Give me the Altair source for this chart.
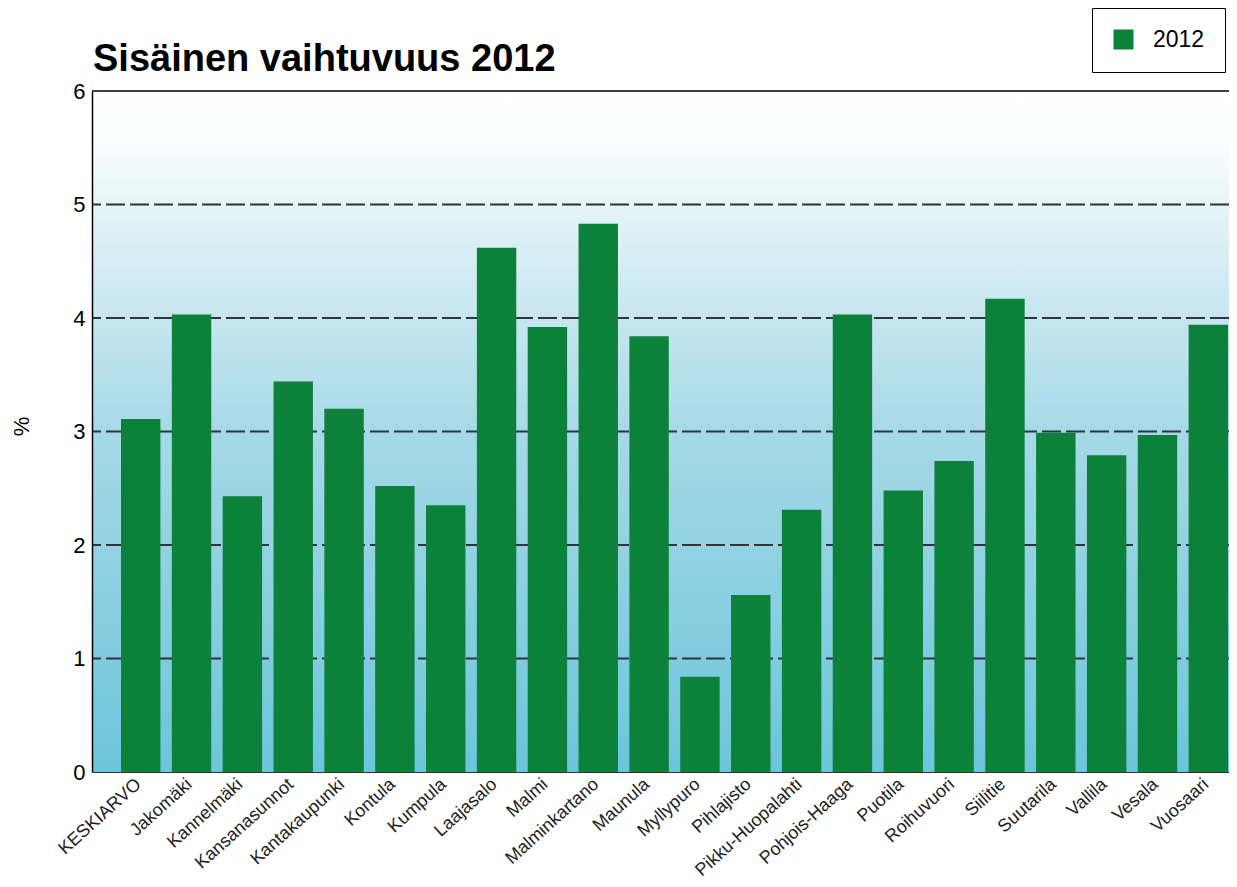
import altair as alt
import pandas as pd

title_text = "Sisäinen vaihtuvuus 2012"
categories = ["KESKIARVO", "Jakomäki", "Kannelmäki", "Kansanasunnot", "Kantakaupunki",
              "Kontula", "Kumpula", "Laajasalo", "Malmi", "Malminkartano", "Maunula",
              "Myllypuro", "Pihlajisto", "Pikku-Huopalahti", "Pohjois-Haaga", "Puotila",
              "Roihuvuori", "Siilitie", "Suutarila", "Vallila", "Vesala", "Vuosaari"]
values = [3.11, 4.03, 2.43, 3.44, 3.20, 2.52, 2.35, 4.62, 3.92, 4.83, 3.84,
          0.84, 1.56, 2.31, 4.03, 2.48, 2.74, 4.17, 2.99, 2.79, 2.97, 3.94]
series_name = "2012"
y_ticks = [0, 1, 2, 3, 4, 5, 6]
grid_lines = [1, 2, 3, 4, 5]
top_line = [6]
y_domain = [0, 6]

W = 1137
H = 681

df = pd.DataFrame({"alue": categories, "arvo": values, "vuosi": series_name})
grid_df = pd.DataFrame({"arvo": grid_lines})
top_df = pd.DataFrame({"arvo": top_line})
bg_df = pd.DataFrame({"arvo": [y_domain[1]], "lo": [y_domain[0]]})
title_df = pd.DataFrame({"otsikko": [title_text]})

yscale = alt.Scale(domain=y_domain, nice=False)
yaxis = alt.Axis(values=y_ticks, title="%", titleFontSize=22, titleFontWeight="normal",
                 titleX=-71, titleY=335, titleColor="#000000", titleAngle=270,
                 titleAlign="center", titleBaseline="middle",
                 labelFontSize=22, labelPadding=7, ticks=False, grid=False,
                 domainColor="#000000", domainWidth=1.5, labelColor="#000000",
                 zindex=1, labelFont="Liberation Sans", titleFont="Liberation Sans")

gradient = alt.Gradient(
    gradient="linear", x1=0, x2=0, y1=0, y2=1,
    stops=[
        alt.GradientStop(offset=0, color="#ffffff"),
        alt.GradientStop(offset=0.07, color="#fcfefe"),
        alt.GradientStop(offset=0.2, color="#dff1f6"),
        alt.GradientStop(offset=0.5, color="#a6d9e7"),
        alt.GradientStop(offset=1, color="#6cc5da"),
    ],
)

bg = alt.Chart(bg_df).mark_rect(color=gradient).encode(
    x=alt.value(0),
    x2=alt.value(W),
    y=alt.Y("arvo:Q", scale=yscale, axis=yaxis),
    y2="lo:Q",
)

grid = alt.Chart(grid_df).mark_rule(color="#333333", strokeWidth=2, strokeDash=[19, 5]).encode(
    y=alt.Y("arvo:Q", scale=yscale, axis=yaxis)
)

top = alt.Chart(top_df).mark_rule(color="#000000", strokeWidth=1.5).encode(
    y=alt.Y("arvo:Q", scale=yscale, axis=yaxis)
)

bars = alt.Chart(df).mark_bar().encode(
    x=alt.X("alue:N", sort=categories,
            scale=alt.Scale(paddingInner=0.225, paddingOuter=0.295, align=0.967),
            axis=alt.Axis(title=None, labelAngle=-42, labelFontSize=18, labelPadding=3,
                          labelOffset=-8,
                          ticks=False, domainColor="#333333", domainWidth=1,
                          labelColor="#222222", zindex=1, labelFont="Liberation Sans")),
    y=alt.Y("arvo:Q", scale=yscale, axis=yaxis),
    color=alt.Color("vuosi:N", scale=alt.Scale(range=["#0b8139"]),
                    legend=alt.Legend(orient="none", legendX=1000, legendY=-83, title=None,
                                      symbolType="square", symbolSize=400, symbolStrokeWidth=0,
                                      labelFontSize=23, labelFont="Liberation Sans",
                                      labelColor="#000000",
                                      strokeColor="#000000", fillColor="#ffffff",
                                      padding=20, labelOffset=18)),
)

title = alt.Chart(title_df).mark_text(
    align="left", baseline="alphabetic", fontSize=38, fontWeight="bold",
    font="Liberation Sans", color="#000000", dx=1,
).encode(
    x=alt.value(0),
    y=alt.value(-20),
    text="otsikko:N",
)

chart = alt.layer(bg, grid, top, bars, title).properties(
    width=W,
    height=H,
    autosize=alt.AutoSizeParams(type="none"),
    padding={"left": 84, "top": 83, "right": 0, "bottom": 107},
).configure_view(stroke=None).configure(font="Liberation Sans")

chart.save("out.html", embed_options={"renderer": "svg", "actions": False})
